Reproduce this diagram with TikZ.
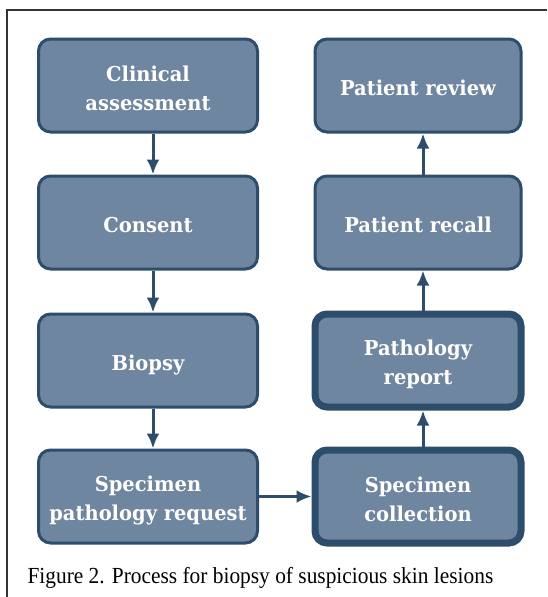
\documentclass[tikz,border=0pt]{standalone}
\usepackage{fontspec}
\setmainfont{Liberation Serif}
\newfontfamily\stagefont[FakeStretch=0.95]{DejaVu Serif}
\newfontfamily\captionfont[FakeStretch=0.93]{Liberation Serif}
\usepackage{tikz}
\usetikzlibrary{arrows.meta,positioning}
\definecolor{stagefill}{RGB}{111,134,160}
\definecolor{stageline}{RGB}{44,77,107}
% strut that sets the text a little low in each box
\newcommand{\stagestrut}{\rule[-3.6pt]{0pt}{27.6pt}}

\begin{document}
\begin{tikzpicture}[x=1pt,y=1pt,on grid,
  every node/.style={font=\stagefont\bfseries\fontsize{20.5}{29}\selectfont},
  stage/.style={draw=stageline,line width=3pt,rounded corners=12pt,fill=stagefill,text=white,minimum width=219pt,minimum height=93pt,align=center,inner sep=0pt,
    execute at begin node=\stagestrut,execute at end node=\stagestrut},
  rstage/.style={stage,minimum width=206pt},
  keystage/.style={rstage,line width=7pt},
  arr/.style={-{Latex[length=15pt,width=13pt]},line width=3pt,draw=stageline}]
\useasboundingbox (0,0) rectangle (547,-597);
% frame, open to the right and bottom
\draw[line width=1.4pt,black!80] (7,-597) -- (7,-10) -- (547,-10);
% left column
\node[stage] (clin) at (148,-85.5) {\stagestrut Clinical\\assessment};
\node[stage,below=137pt of clin] (cons) {Consent};
\node[stage,below=138pt of cons] (bio) {Biopsy};
\node[stage,below=136pt of bio] (req) {\stagestrut Specimen\\pathology request};
% right column, bottom up
\node[keystage,right=270pt of req] (coll) {\stagestrut Specimen\\collection};
\node[keystage,above=136pt of coll] (rep) {\stagestrut Pathology\\report};
\node[rstage,above=138pt of rep] (recall) {Patient recall};
\node[rstage,above=137pt of recall] (review) {Patient review};
\draw[arr] ([xshift=5pt]clin.south) -- ([xshift=5pt]cons.north);
\draw[arr] ([xshift=5pt]cons.south) -- ([xshift=5pt]bio.north);
\draw[arr] ([xshift=5pt]bio.south) -- ([xshift=5pt]req.north);
\draw[arr] (req.east) -- (coll.west);
\draw[arr] ([xshift=5pt]coll.north) -- ([xshift=5pt]rep.south);
\draw[arr] ([xshift=5pt]rep.north) -- ([xshift=5pt]recall.south);
\draw[arr] ([xshift=5pt]recall.north) -- ([xshift=5pt]review.south);
\node[anchor=base west,font=\captionfont\fontsize{23}{23}\selectfont] (cap) at (24,-583) {Figure 2. Process for biopsy of suspicious skin lesions};
\end{tikzpicture}
\end{document}
